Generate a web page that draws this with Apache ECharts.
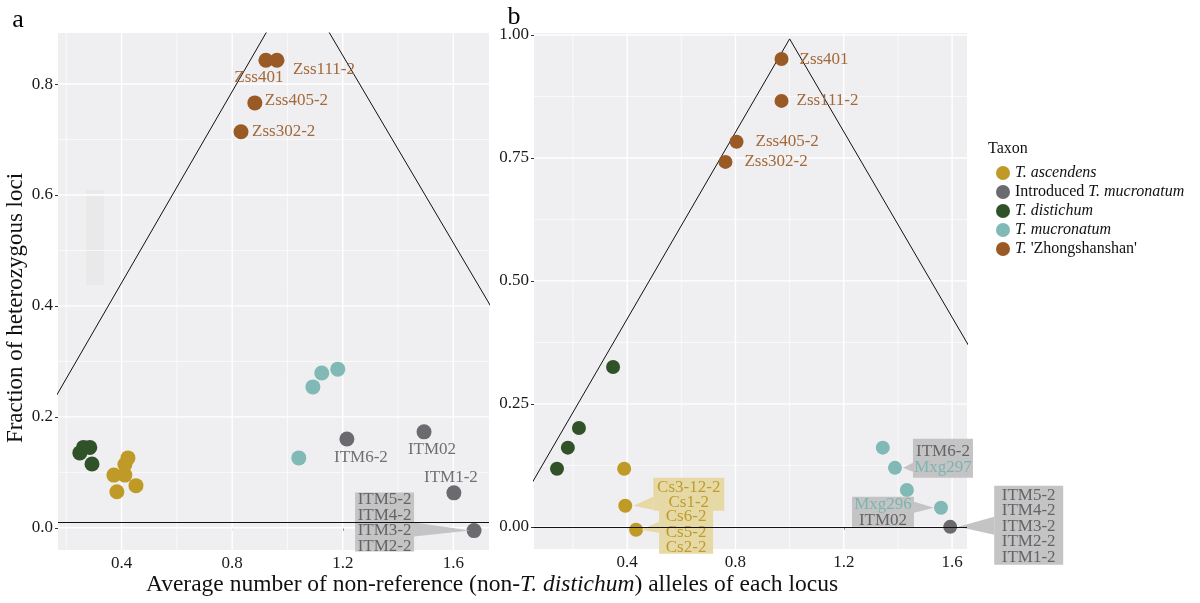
<!DOCTYPE html>
<html>
<head>
<meta charset="UTF-8">
<title>Heterozygosity vs non-reference alleles</title>
<script src="https://cdn.jsdelivr.net/npm/echarts@6/dist/echarts.min.js"></script>
<style>
  html, body { margin: 0; background: #fff; }
  #chart { width: 1200px; height: 603px; }
</style>
</head>
<body>
<div id="chart"></div>
<script>
var SERIF = 'Liberation Serif';

var taxa = ['T. ascendens', 'Introduced T. mucronatum', 'T. distichum', 'T. mucronatum', "T. 'Zhongshanshan'"];
var taxonColors = ['#bf9a26', '#6b6a6e', '#2f5229', '#80b9b6', '#9a5a26'];

// panel a : [average non-reference alleles, fraction heterozygous]
var aAscendens = [[0.372, 0.095], [0.412, 0.095], [0.412, 0.114], [0.423, 0.126], [0.383, 0.065], [0.452, 0.076]];
var aIntroduced = [[1.215, 0.160], [1.494, 0.173], [1.602, 0.063], [1.675, -0.005]];
var aIntroducedNames = ['ITM6-2', 'ITM02', 'ITM1-2', ''];
var aDistichum = [[0.249, 0.135], [0.262, 0.145], [0.285, 0.145], [0.293, 0.115]];
var aMucronatum = [[1.092, 0.254], [1.124, 0.279], [1.182, 0.286], [1.041, 0.126]];
var aZhong = [[0.922, 0.843], [0.962, 0.843], [0.882, 0.766], [0.832, 0.714]];
var aZhongNames = ['Zss401', 'Zss111-2', 'Zss405-2', 'Zss302-2'];
var aTriangle = [[0.15, 0.226], [1.036, 0.99], [1.75, 0.387]];
var aBaseline = 0.009;

// panel b
var bAscendens = [[0.389, 0.118], [0.393, 0.043], [0.433, -0.006]];
var bIntroduced = [[1.593, 0.0]];
var bDistichum = [[0.348, 0.325], [0.222, 0.201], [0.181, 0.161], [0.141, 0.118]];
var bMucronatum = [[1.344, 0.161], [1.389, 0.120], [1.433, 0.075], [1.559, 0.039]];
var bZhong = [[0.970, 0.951], [0.970, 0.866], [0.804, 0.783], [0.763, 0.742]];
var bZhongNames = ['Zss401', 'Zss111-2', 'Zss405-2', 'Zss302-2'];
var bTriangle = [[0.04, 0.081], [1.0, 0.992], [1.67, 0.36]];
var bBaseline = 0;

// tick labels
var xTicks = [0.4, 0.8, 1.2, 1.6];
var aYTicks = [0, 0.2, 0.4, 0.6, 0.8];
var bYTicks = [0, 0.25, 0.5, 0.75, 1.0];

// boxed labels: which point they point at and the names they hold
var aCallouts = [
  { at: aIntroduced[3], lines: ['ITM5-2', 'ITM4-2', 'ITM3-2', 'ITM2-2'], tones: ['g', 'g', 'g', 'g'], box: 'gray' }
];
var bCallouts = [
  { at: bAscendens[1], lines: ['Cs3-12-2', 'Cs1-2'], tones: ['y', 'y'], box: 'gold' },
  { at: bAscendens[2], lines: ['Cs6-2', 'Cs5-2', 'Cs2-2'], tones: ['y', 'y', 'y'], box: 'gold' },
  { at: bMucronatum[1], lines: ['ITM6-2', 'Mxg297'], tones: ['g', 't'], box: 'gray' },
  { at: bMucronatum[3], lines: ['Mxg296', 'ITM02'], tones: ['t', 'g'], box: 'gray' },
  { at: bIntroduced[0], lines: ['ITM5-2', 'ITM4-2', 'ITM3-2', 'ITM2-2', 'ITM1-2'], tones: ['g', 'g', 'g', 'g', 'g'], box: 'gray' }
];

// pixel layout of the boxes relative to their point: dx, dy, w, h, wedge side, wedge top/bottom, tip
var aCalloutLayout = [
  { dx: -119, dy: -38, w: 59, h: 59, side: 'right', b0: -8, b1: 6, tip: -4 }
];
var bCalloutLayout = [
  { dx: 28, dy: -28, w: 71, h: 33, side: 'left', b0: -9, b1: 4, tip: 8 },
  { dx: 23, dy: -21, w: 54, h: 45, side: 'left', b0: -8, b1: 3, tip: 5 },
  { dx: 18, dy: -29, w: 60, h: 39, side: 'left', b0: -5, b1: 4, tip: 8 },
  { dx: -89, dy: -11, w: 62, h: 30, side: 'right', b0: -6, b1: 5, tip: -7 },
  { dx: 44, dy: -41, w: 69, h: 79, side: 'left', b0: -10, b1: 8, tip: 8 }
];

// plain text labels next to points: [dx, dy, align]
var labelLayout = {
  'a:Zss401': [-7, 17, 'center'],
  'a:Zss111-2': [16, 9, 'left'],
  'a:Zss405-2': [10, -2, 'left'],
  'a:Zss302-2': [11, 0, 'left'],
  'a:ITM6-2': [14, 18, 'center'],
  'a:ITM02': [8, 18, 'center'],
  'a:ITM1-2': [-3, -15, 'center'],
  'b:Zss401': [18, 0, 'left'],
  'b:Zss111-2': [15, 0, 'left'],
  'b:Zss405-2': [19, 0, 'left'],
  'b:Zss302-2': [19, 0, 'left']
};

var toneColors = { g: '#646367', t: '#7db4b1', y: '#bd9c2c' };
var boxColors = { gray: '#c4c4c5', gold: '#e6d9a6' };
var labelColors = ['#bf9a26', '#707072', '#2f5229', '#80b9b6', '#a2693a'];

var chart = echarts.init(document.getElementById('chart'));

function pointData(panel, pts, names) {
  return pts.map(function (p, i) {
    var nm = names ? names[i] : '';
    var lay = labelLayout[panel + ':' + nm];
    if (!nm || !lay) return { value: p };
    return {
      value: p,
      label: {
        show: true, formatter: nm, position: 'inside',
        offset: [lay[0], lay[1]], align: lay[2], verticalAlign: 'middle'
      }
    };
  });
}

function scatterSeries(panel, idx, sets, size) {
  return sets.map(function (s, t) {
    return {
      name: taxa[t], type: 'scatter', xAxisIndex: idx, yAxisIndex: idx,
      symbolSize: size, z: 3,
      itemStyle: { color: taxonColors[t], opacity: 1 },
      label: { fontFamily: SERIF, fontSize: 17, color: labelColors[t] },
      emphasis: { disabled: true },
      data: pointData(panel, s.pts, s.names)
    };
  });
}

function gridSeries(idx, xMajor, xMinor, yMajor, yMinor) {
  var data = [];
  xMinor.forEach(function (v) { data.push([v, 0, 0]); });
  yMinor.forEach(function (v) { data.push([v, 1, 0]); });
  xMajor.forEach(function (v) { data.push([v, 0, 1]); });
  yMajor.forEach(function (v) { data.push([v, 1, 1]); });
  return {
    type: 'custom', xAxisIndex: idx, yAxisIndex: idx, z: 1, silent: true,
    encode: { x: -1, y: -1 },
    data: data,
    renderItem: function (params, api) {
      var cs = params.coordSys;
      var v = api.value(0), dir = api.value(1), major = api.value(2);
      var shape;
      if (dir === 0) {
        var px = api.coord([v, 0])[0];
        shape = { x1: px, y1: cs.y, x2: px, y2: cs.y + cs.height };
      } else {
        var py = api.coord([1, v])[1];
        shape = { x1: cs.x, y1: py, x2: cs.x + cs.width, y2: py };
      }
      return {
        type: 'line', shape: shape,
        style: { stroke: '#ffffff', lineWidth: major ? 1.4 : 0.7 }
      };
    }
  };
}

function refSeries(idx, pts, base) {
  return {
    type: 'line', xAxisIndex: idx, yAxisIndex: idx, z: 2, silent: true,
    data: pts, symbol: 'none', clip: true,
    lineStyle: { color: '#111', width: 1 },
    markLine: {
      silent: true, symbol: 'none', label: { show: false },
      lineStyle: { color: '#111', width: 1, type: 'solid' },
      data: [{ yAxis: base }]
    }
  };
}

function calloutSeries(idx, callouts, layouts) {
  return {
    type: 'custom', xAxisIndex: idx, yAxisIndex: idx, z: 4, silent: true, clip: false,
    encode: { x: 0, y: 1 },
    data: callouts.map(function (c, i) { return [c.at[0], c.at[1], i]; }),
    renderItem: function (params, api) {
      var i = api.value(2);
      var c = callouts[i], L = layouts[i];
      var p = api.coord([api.value(0), api.value(1)]);
      var left = p[0] + L.dx, top = p[1] + L.dy;
      var edge = L.side === 'left' ? left : left + L.w;
      var fill = boxColors[c.box];
      var text = c.lines.map(function (ln, k) { return '{' + c.tones[k] + '|' + ln + '}'; }).join('\n');
      var rich = {};
      ['g', 't', 'y'].forEach(function (k) {
        rich[k] = { fill: toneColors[k], fontFamily: SERIF, fontSize: 17, lineHeight: 15.6 };
      });
      return {
        type: 'group',
        children: [
          { type: 'polygon', shape: { points: [[p[0] + L.tip, p[1]], [edge, p[1] + L.b0], [edge, p[1] + L.b1]] }, style: { fill: fill } },
          { type: 'rect', shape: { x: left, y: top, width: L.w, height: L.h }, style: { fill: fill } },
          { type: 'text', style: { x: left + L.w / 2, y: top + L.h / 2 + 1, text: text, rich: rich, align: 'center', verticalAlign: 'middle', fontFamily: SERIF, fontSize: 17 } }
        ]
      };
    }
  };
}

function valueAxis(grid, min, max, ticks, digits) {
  return {
    type: 'value', gridIndex: grid, min: min, max: max,
    axisLine: { show: false },
    splitLine: { show: false },
    axisTick: { show: true, customValues: ticks, length: 3, lineStyle: { color: '#333', width: 1 } },
    axisLabel: {
      customValues: ticks, fontFamily: SERIF, fontSize: 17, color: '#1a1a1a', margin: 5,
      formatter: function (v) { return v.toFixed(digits); }
    }
  };
}

var legendRich = {
  i: { fontFamily: SERIF, fontStyle: 'italic', fontSize: 16, color: '#111' },
  n: { fontFamily: SERIF, fontSize: 16, color: '#111' }
};

var series = [];
series.push(gridSeries(0, [0.4, 0.8, 1.2, 1.6], [0.2, 0.6, 1.0, 1.4], aYTicks, [0.1, 0.3, 0.5, 0.7]));
series.push(gridSeries(1, [0.4, 0.8, 1.2, 1.6], [0.2, 0.6, 1.0, 1.4], bYTicks, [0.125, 0.375, 0.625, 0.875]));
series.push(refSeries(0, aTriangle, aBaseline));
series.push(refSeries(1, bTriangle, bBaseline));
series = series.concat(scatterSeries('a', 0, [
  { pts: aAscendens }, { pts: aIntroduced, names: aIntroducedNames }, { pts: aDistichum },
  { pts: aMucronatum }, { pts: aZhong, names: aZhongNames }
], 15));
series = series.concat(scatterSeries('b', 1, [
  { pts: bAscendens }, { pts: bIntroduced }, { pts: bDistichum },
  { pts: bMucronatum }, { pts: bZhong, names: bZhongNames }
], 14));
series.push(calloutSeries(0, aCallouts, aCalloutLayout));
series.push(calloutSeries(1, bCallouts, bCalloutLayout));

var option = {
  animation: false,
  backgroundColor: '#ffffff',
  grid: [
    { left: 58, top: 33, width: 431, height: 517, show: true, backgroundColor: '#efeef0', borderWidth: 0 },
    { left: 534, top: 33, width: 433, height: 516, show: true, backgroundColor: '#efeef0', borderWidth: 0 }
  ],
  xAxis: [valueAxis(0, 0.17, 1.729, xTicks, 1), valueAxis(1, 0.056, 1.655, xTicks, 1)],
  yAxis: [valueAxis(0, -0.04, 0.892, aYTicks, 1), valueAxis(1, -0.045, 1.004, bYTicks, 2)],
  legend: {
    data: taxa, orient: 'vertical', left: 991, top: 160,
    icon: 'circle', itemWidth: 14, itemHeight: 14, itemGap: 3,
    selectedMode: false,
    textStyle: { fontFamily: SERIF, fontSize: 16, color: '#111', rich: legendRich },
    formatter: function (name) {
      if (name === 'Introduced T. mucronatum') return '{n|Introduced }{i|T. mucronatum}';
      if (name === "T. 'Zhongshanshan'") return "{i|T.}{n| 'Zhongshanshan'}";
      return '{i|' + name + '}';
    }
  },
  graphic: [
    { type: 'rect', shape: { x: 86, y: 190, width: 18, height: 95 }, style: { fill: '#e9e9ea' }, z: 0, zlevel: 0 },
    { type: 'text', x: 18, y: 20, style: { text: 'a', fontFamily: SERIF, fontSize: 26, fill: '#000', align: 'center', verticalAlign: 'middle' } },
    { type: 'text', x: 514, y: 17, style: { text: 'b', fontFamily: SERIF, fontSize: 26, fill: '#000', align: 'center', verticalAlign: 'middle' } },
    { type: 'text', x: 988, y: 149, style: { text: 'Taxon', fontFamily: SERIF, fontSize: 16, fill: '#111', align: 'left', verticalAlign: 'middle' } },
    { type: 'text', x: 16, y: 308, rotation: Math.PI / 2,
      style: { text: 'Fraction of heterozygous loci', fontFamily: SERIF, fontSize: 23, fill: '#111', align: 'center', verticalAlign: 'middle' } },
    { type: 'text', x: 492, y: 585,
      style: {
        text: '{n|Average number of non-reference (non-}{i|T. distichum}{n|) alleles of each locus}',
        align: 'center', verticalAlign: 'middle',
        rich: {
          n: { fontFamily: SERIF, fontSize: 23.5, fill: '#111' },
          i: { fontFamily: SERIF, fontSize: 23.5, fontStyle: 'italic', fill: '#111' }
        }
      } }
  ],
  series: series
};
chart.setOption(option);
</script>
</body>
</html>
